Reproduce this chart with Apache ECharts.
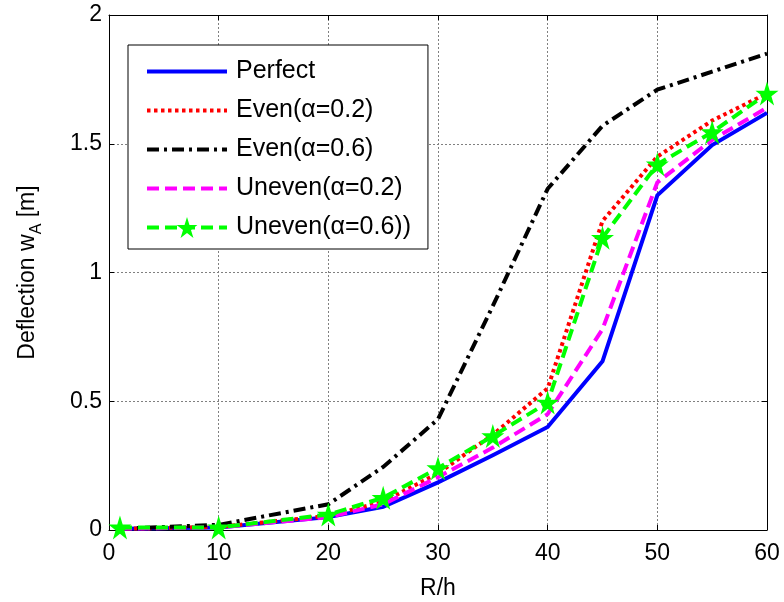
<!DOCTYPE html>
<html>
<head>
<meta charset="utf-8">
<script src="https://cdn.jsdelivr.net/npm/echarts@6/dist/echarts.min.js"></script>
<style>
  html, body { margin: 0; padding: 0; background: #fff; }
  #chart { width: 784px; height: 602px; }
</style>
</head>
<body>
<div id="chart"></div>
<script>
// Slenderness ratio R/h sampled along the x axis
const ratios = [1, 10, 20, 25, 30, 35, 40, 45, 50, 55, 60];

// Deflection w_A [m] for each shell case
const perfect   = [0.005, 0.010, 0.050, 0.090, 0.185, 0.290, 0.400, 0.655, 1.300, 1.495, 1.620];
const even02    = [0.005, 0.012, 0.055, 0.110, 0.220, 0.370, 0.550, 1.200, 1.450, 1.590, 1.695];
const even06    = [0.005, 0.020, 0.100, 0.245, 0.430, 0.870, 1.325, 1.570, 1.710, 1.780, 1.850];
const uneven02  = [0.005, 0.010, 0.050, 0.100, 0.205, 0.320, 0.450, 0.780, 1.350, 1.515, 1.640];
const uneven06  = [0.010, 0.010, 0.060, 0.125, 0.240, 0.365, 0.495, 1.135, 1.420, 1.545, 1.695];

const seriesNames = ['Perfect', 'Even(\u03b1=0.2)', 'Even(\u03b1=0.6)', 'Uneven(\u03b1=0.2)', 'Uneven(\u03b1=0.6))'];

const xTicks = { min: 0, max: 60, interval: 10 };
const yTicks = { min: 0, max: 2, interval: 0.5 };

const FONT = '"Liberation Sans", Arial, sans-serif';
const STAR = 'path://M0,-10L2.245,-3.09L9.511,-3.09L3.633,1.18L5.878,8.09L0,3.82L-5.878,8.09L-3.633,1.18L-9.511,-3.09L-2.245,-3.09Z';
const LINE_W = 4;

const pairs = ys => ratios.map((x, i) => [x, ys[i]]);

function lineSeries(name, ys, color, type, extra) {
  return Object.assign({
    name: name,
    type: 'line',
    xAxisIndex: 0,
    yAxisIndex: 0,
    data: pairs(ys),
    symbol: 'none',
    showSymbol: false,
    animation: false,
    lineStyle: { color: color, width: LINE_W, type: type, cap: 'butt', join: 'miter' },
    itemStyle: { color: color }
  }, extra || {});
}

// legend entries: plain lines get an invisible marker, the last one keeps its star
const hiddenMarker = { color: 'rgba(0,0,0,0)', borderColor: 'rgba(0,0,0,0)', borderWidth: 0 };
const legendData = seriesNames.map((n, i) =>
  i < seriesNames.length - 1 ? { name: n, itemStyle: hiddenMarker } : { name: n });

const chart = echarts.init(document.getElementById('chart'), null, { renderer: 'canvas' });

const axisCommon = {
  axisLine: { show: true, onZero: false, lineStyle: { color: '#000', width: 1 } },
  axisTick: { show: true, inside: true, length: 5, lineStyle: { color: '#000', width: 1 } }
};

chart.setOption({
  backgroundColor: '#fff',
  animation: false,
  grid: { left: 109, right: 17, top: 15, bottom: 72, containLabel: false, outerBoundsMode: 'none' },
  legend: {
    orient: 'vertical',
    left: 128,
    top: 45,
    padding: [14, 17, 9, 17],
    itemWidth: 80,
    itemHeight: 26,
    itemGap: 14,
    backgroundColor: '#fff',
    borderColor: '#000',
    borderWidth: 1,
    borderRadius: 0,
    data: legendData,
    lineStyle: { width: LINE_W },
    textStyle: { fontSize: 25, fontFamily: FONT, color: '#000', padding: [0, 0, 0, 4] }
  },
  xAxis: [
    Object.assign({
      type: 'value', position: 'bottom',
      min: xTicks.min, max: xTicks.max, interval: xTicks.interval,
      name: 'R/h', nameLocation: 'middle', nameGap: 47,
      nameTextStyle: { fontSize: 23, fontFamily: FONT, color: '#000' },
      axisLabel: { fontSize: 23, fontFamily: FONT, color: '#000', margin: 12 },
      splitLine: { show: true, lineStyle: { color: '#808080', width: 1, type: [2, 2] } }
    }, axisCommon),
    Object.assign({
      type: 'value', position: 'top',
      min: xTicks.min, max: xTicks.max, interval: xTicks.interval,
      axisLabel: { show: false },
      splitLine: { show: false }
    }, axisCommon)
  ],
  yAxis: [
    Object.assign({
      type: 'value', position: 'left',
      min: yTicks.min, max: yTicks.max, interval: yTicks.interval,
      name: '{a|Deflection w}{b|A}{a| [m]}',
      nameLocation: 'middle', nameRotate: 90, nameGap: 70,
      nameTextStyle: {
        fontFamily: FONT, color: '#000',
        rich: {
          a: { fontSize: 23, lineHeight: 23, fontFamily: FONT, color: '#000', verticalAlign: 'top' },
          b: { fontSize: 16, lineHeight: 16, fontFamily: FONT, color: '#000', verticalAlign: 'top', padding: [13, 0, 0, 0] }
        }
      },
      axisLabel: { fontSize: 23, fontFamily: FONT, color: '#000', margin: 7 },
      splitLine: { show: true, lineStyle: { color: '#808080', width: 1, type: [2, 2] } }
    }, axisCommon),
    Object.assign({
      type: 'value', position: 'right',
      min: yTicks.min, max: yTicks.max, interval: yTicks.interval,
      axisLabel: { show: false },
      splitLine: { show: false }
    }, axisCommon)
  ],
  series: [
    lineSeries(seriesNames[0], perfect, '#0000ff', 'solid'),
    lineSeries(seriesNames[1], even02, '#ff0000', [3.5, 3.5]),
    lineSeries(seriesNames[2], even06, '#000000', [12, 5, 3, 5]),
    lineSeries(seriesNames[3], uneven02, '#ff00ff', [12, 6]),
    lineSeries(seriesNames[4], uneven06, '#00ff00', [12, 6], {
      symbol: STAR,
      showSymbol: true,
      symbolSize: [23, 24],
      itemStyle: { color: '#00ff00', borderWidth: 0 }
    })
  ]
});
</script>
</body>
</html>
